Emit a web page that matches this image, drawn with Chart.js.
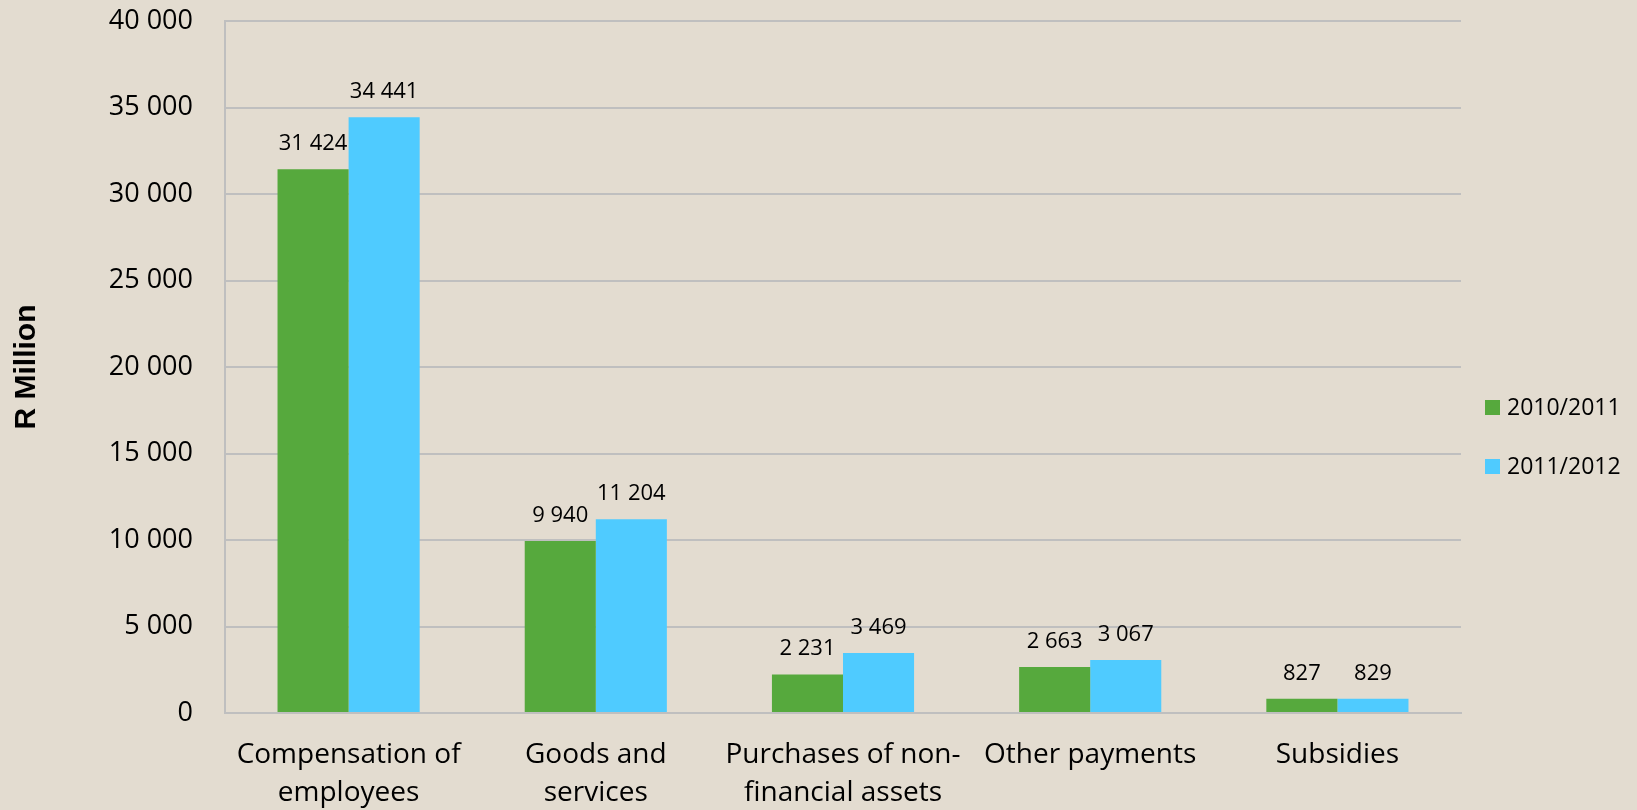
<!DOCTYPE html>
<html>
<head>
<meta charset="utf-8">
<title>Expenditure by economic classification</title>
<script src="https://cdn.jsdelivr.net/npm/chart.js@4"></script>
<style>
    html, body { margin: 0; padding: 0; background: #e3dcd0; }
    #wrap { width: 1637px; height: 810px; position: relative; }
</style>
</head>
<body>
<div id="wrap"><canvas id="spendChart"></canvas></div>
<script>
// Chart data
const categories = [
    ['Compensation of', 'employees'],
    ['Goods and', 'services'],
    ['Purchases of non-', 'financial assets'],
    'Other payments',
    'Subsidies'
];
const seriesNames = ['2010/2011', '2011/2012'];
const values2010 = [31424, 9940, 2231, 2663, 827];
const values2011 = [34441, 11204, 3469, 3067, 829];

const GREEN = '#56a93d';
const BLUE = '#4fcbff';
const FONT = '"Open Sans", "Noto Sans", sans-serif';

// thousands separated by a space, like "34 441"
function spaced(n) {
    return String(Math.round(n)).replace(/\B(?=(\d{3})+(?!\d))/g, ' ');
}

// Paper background
const backgroundPlugin = {
    id: 'paperBackground',
    beforeDraw(chart) {
        const ctx = chart.ctx;
        ctx.save();
        ctx.fillStyle = '#e3dcd0';
        ctx.fillRect(0, 0, chart.width, chart.height);
        ctx.restore();
    }
};

// Value labels above each bar
const valueLabelPlugin = {
    id: 'valueLabels',
    afterDatasetsDraw(chart) {
        const ctx = chart.ctx;
        ctx.save();
        ctx.font = '22px ' + FONT;
        ctx.fillStyle = '#000';
        ctx.textAlign = 'center';
        ctx.textBaseline = 'alphabetic';
        chart.data.datasets.forEach((ds, i) => {
            chart.getDatasetMeta(i).data.forEach((bar, j) => {
                ctx.fillText(spaced(ds.data[j]), bar.x, bar.y - 19);
            });
        });
        ctx.restore();
    }
};

// Legend on the right, drawn by hand to sit where the original has it
const sideLegendPlugin = {
    id: 'sideLegend',
    afterDraw(chart) {
        const ctx = chart.ctx;
        const x = chart.chartArea.right + 24;
        const rows = [407, 466];
        ctx.save();
        ctx.font = '23px ' + FONT;
        ctx.textBaseline = 'middle';
        ctx.textAlign = 'left';
        chart.data.datasets.forEach((ds, i) => {
            ctx.fillStyle = ds.backgroundColor;
            ctx.fillRect(x, rows[i] - 7, 15, 15);
            ctx.fillStyle = '#000';
            ctx.fillText(ds.label, x + 22, rows[i] + 1);
        });
        ctx.restore();
    }
};

const ctx = document.getElementById('spendChart').getContext('2d');
new Chart(ctx, {
    type: 'bar',
    data: {
        labels: categories,
        datasets: [{
            label: seriesNames[0],
            data: values2010,
            backgroundColor: GREEN,
            borderWidth: 0
        },
        {
            label: seriesNames[1],
            data: values2011,
            backgroundColor: BLUE,
            borderWidth: 0
        }]
    },
    options: {
        responsive: true,
        maintainAspectRatio: false,
        animation: false,
        categoryPercentage: 0.575,
        barPercentage: 1.0,
        layout: {
            padding: { top: 21, right: 176, left: 0, bottom: 0 }
        },
        plugins: {
            legend: { display: false },
            tooltip: { enabled: false }
        },
        scales: {
            x: {
                grid: { display: false, drawTicks: false },
                border: { display: true, color: '#bfbfbf', width: 2 },
                ticks: {
                    color: '#000',
                    font: { family: FONT, size: 28, lineHeight: 1.36 },
                    padding: 23,
                    maxRotation: 0,
                    autoSkip: false
                },
                afterFit(scale) {
                    scale.height = 97;
                    scale.paddingLeft = 0;
                    scale.paddingRight = 0;
                }
            },
            y: {
                min: 0,
                max: 40000,
                grid: { color: '#bfbfbf', lineWidth: 2, drawTicks: false },
                border: { display: true, color: '#bfbfbf', width: 2 },
                ticks: {
                    stepSize: 5000,
                    color: '#000',
                    font: { family: FONT, size: 27 },
                    padding: 32,
                    callback: (v) => spaced(v)
                },
                title: {
                    display: true,
                    text: 'R Million',
                    color: '#000',
                    font: { family: '"Liberation Sans", Arial, sans-serif', size: 30, weight: 'bold' },
                    padding: { top: 9, bottom: 0 }
                },
                afterFit(scale) {
                    scale.width = 225;
                    scale.paddingTop = 0;
                    scale.paddingBottom = 0;
                }
            }
        }
    },
    plugins: [backgroundPlugin, valueLabelPlugin, sideLegendPlugin]
});
</script>
</body>
</html>
